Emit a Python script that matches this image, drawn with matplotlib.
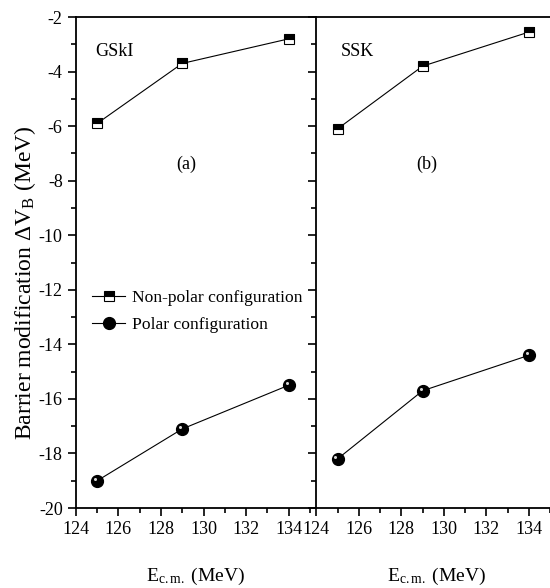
import matplotlib
matplotlib.use("Agg")
import matplotlib.pyplot as plt
import matplotlib.transforms as mtransforms
from matplotlib.ticker import MultipleLocator

plt.rcParams["font.family"] = ["Liberation Serif", "DejaVu Serif"]
plt.rcParams["mathtext.fontset"] = "custom"
plt.rcParams["mathtext.rm"] = "Liberation Serif"
plt.rcParams["mathtext.it"] = "Liberation Serif:italic"
plt.rcParams["axes.unicode_minus"] = False

energies = [125, 129, 134]
gski_nonpolar = [-5.9, -3.7, -2.8]
gski_polar = [-19.0, -17.1, -15.5]
ssk_nonpolar = [-6.1, -3.8, -2.55]
ssk_polar = [-18.2, -15.7, -14.4]

panels = [
    ("GSkI", "(a)", gski_nonpolar, gski_polar),
    ("SSK", "(b)", ssk_nonpolar, ssk_polar),
]

fig = plt.figure(figsize=(5.5, 5.88), dpi=100)
left, bottom, top = 0.138, 0.136, 0.971
width = 0.437
axes = [
    fig.add_axes([left, bottom, width, top - bottom]),
    fig.add_axes([left + width, bottom, width, top - bottom]),
]


def sphere(ax, x, y):
    ax.plot(x, y, "o", color="black", markersize=8.5, zorder=3)
    hl = mtransforms.offset_copy(ax.transData, fig=fig, x=-1.5, y=1.5, units="points")
    ax.plot(x, y, "o", color="#d8d8d8", markersize=2.2, markeredgewidth=0,
            transform=hl, zorder=4)


for i, (name, tag, nonpolar, polar) in enumerate(panels):
    ax = axes[i]
    ax.plot(energies, nonpolar, "-s", color="black", lw=0.8, markersize=6.5,
            fillstyle="top", markerfacecoloralt="white", markeredgewidth=0.8)
    ax.plot(energies, polar, "-", color="black", lw=0.8)
    sphere(ax, energies, polar)

    ax.set_xlim(124, 135.3)
    ax.set_ylim(-20, -2)
    ax.xaxis.set_major_locator(MultipleLocator(2))
    ax.xaxis.set_minor_locator(MultipleLocator(1))
    ax.yaxis.set_major_locator(MultipleLocator(2))
    ax.yaxis.set_minor_locator(MultipleLocator(1))
    ax.tick_params(which="both", direction="out", top=False, right=False,
                   labelsize=13, width=1.2)
    ax.tick_params(which="major", length=6)
    ax.tick_params(which="minor", length=3.5)
    for s in ax.spines.values():
        s.set_linewidth(1.3)
    ax.spines["right"].set_visible(False)
    ax.set_xlabel(r"E$_{\mathrm{c.m.}}$ (MeV)", fontsize=14, labelpad=20)
    ax.text(0.08 if i == 0 else 0.1, 0.929, name, transform=ax.transAxes,
            fontsize=13, va="center")
    ax.text(129.2, -7.4, tag, fontsize=13, ha="center", va="center")
    if i == 1:
        ax.tick_params(axis="y", labelleft=False)

axes[0].set_ylabel(r"Barrier modification $\Delta$V$_{\mathrm{B}}$ (MeV)",
                   fontsize=17)
axes[0].yaxis.set_label_coords(-0.158, 0.46)

# legend built from matching proxy artists
h1, = axes[0].plot([], [], "-s", color="black", lw=0.8, markersize=6.5,
                   fillstyle="top", markerfacecoloralt="white", markeredgewidth=0.8)
h2, = axes[0].plot([], [], "-o", color="black", lw=0.8, markersize=8.5)
axes[0].legend([h1, h2], ["Non-polar configuration", "Polar configuration"],
               loc="center left", bbox_to_anchor=(0.067, 0.401), frameon=False,
               fontsize=12.6, handlelength=1.9, handletextpad=0.4, labelspacing=0.6,
               borderaxespad=0, borderpad=0)

fig.savefig("out.png", dpi=100)
